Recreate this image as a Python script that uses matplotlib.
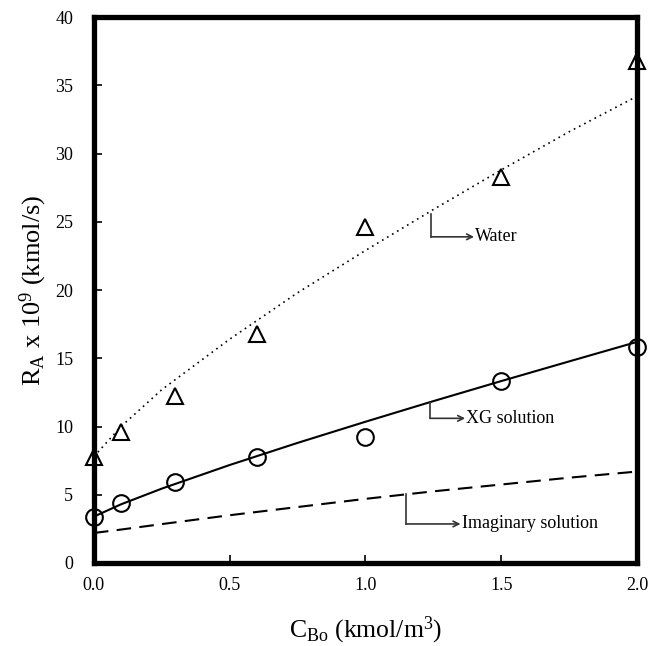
import matplotlib
matplotlib.use("Agg")
import matplotlib.pyplot as plt

plt.rcParams['font.family'] = ['Liberation Serif', 'DejaVu Serif']
plt.rcParams['mathtext.fontset'] = 'custom'
plt.rcParams['mathtext.rm'] = 'Liberation Serif'
plt.rcParams['mathtext.it'] = 'Liberation Serif:italic'

# Experimental data
x_pts = [0.0, 0.1, 0.3, 0.6, 1.0, 1.5, 2.0]
water_pts = [7.8, 9.6, 12.2, 16.8, 24.6, 28.3, 36.8]
xg_pts = [3.4, 4.4, 5.9, 7.8, 9.2, 13.3, 15.8]

# Model curves
x_fit = [0.0, 0.1, 0.25, 0.5, 0.75, 1.0, 1.25, 1.5, 1.75, 2.0]
water_fit = [7.8, 10.0, 12.7, 16.4, 19.8, 22.9, 25.9, 28.8, 31.6, 34.2]
xg_fit = [3.4, 4.3, 5.45, 7.18, 8.8, 10.35, 11.86, 13.33, 14.77, 16.2]
imag_fit = [2.2, 2.45, 2.85, 3.5, 4.1, 4.7, 5.25, 5.75, 6.25, 6.7]

fig = plt.figure(figsize=(6.52, 6.46), dpi=100)
ax = fig.add_axes([0.144, 0.1285, 0.833, 0.845])

ax.plot(x_fit, water_fit, color='black', linestyle=(0, (1, 2.5)), linewidth=1.2)
ax.plot(x_fit, xg_fit, color='black', linestyle='-', linewidth=1.5)
ax.plot(x_fit, imag_fit, color='black', linestyle=(0, (7, 4)), linewidth=1.5)

ax.plot(x_pts, water_pts, linestyle='none', marker='^', markersize=12,
        markerfacecolor='white', markeredgecolor='black', markeredgewidth=1.5,
        clip_on=False, zorder=5)
ax.plot(x_pts, xg_pts, linestyle='none', marker='o', markersize=12,
        markerfacecolor='none', markeredgecolor='black', markeredgewidth=1.5,
        clip_on=False, zorder=5)

ax.set_xlim(0, 2.0)
ax.set_ylim(0, 40)
ax.set_xticks([0.0, 0.5, 1.0, 1.5, 2.0])
ax.set_xticklabels(['0.0', '0.5', '1.0', '1.5', '2.0'])
ax.set_yticks(range(0, 41, 5))
ax.tick_params(axis='both', direction='in', length=6, width=1.2,
               labelsize=13, colors='black')
ax.tick_params(axis='x', pad=10)
ax.tick_params(axis='y', pad=15)
for s in ax.spines.values():
    s.set_linewidth(3.8)
    s.set_zorder(6)

ax.set_ylabel(r'R$_{\rm A}$ x 10$^{\rm 9}$ (kmol/s)', fontsize=19, labelpad=4)
ax.set_xlabel(r'C$_{\rm Bo}$ (kmol/m$^{\rm 3}$)', fontsize=18.5, labelpad=15)

def note(xv, ytop, ybot, xend, label):
    ax.plot([xv, xv], [ytop, ybot], color='#333333', linewidth=1.2)
    ax.annotate('', xy=(xend, ybot), xytext=(xv, ybot),
                arrowprops=dict(arrowstyle='->', color='#333333', lw=1.2,
                                shrinkA=0, shrinkB=0))
    ax.text(xend + 0.005, ybot, label, fontsize=13, va='center', ha='left')

note(1.241, 25.6, 23.9, 1.40, 'Water')
note(1.238, 11.7, 10.6, 1.367, 'XG solution')
note(1.149, 5.05, 2.86, 1.35, 'Imaginary solution')

fig.savefig('out.png', dpi=100)
